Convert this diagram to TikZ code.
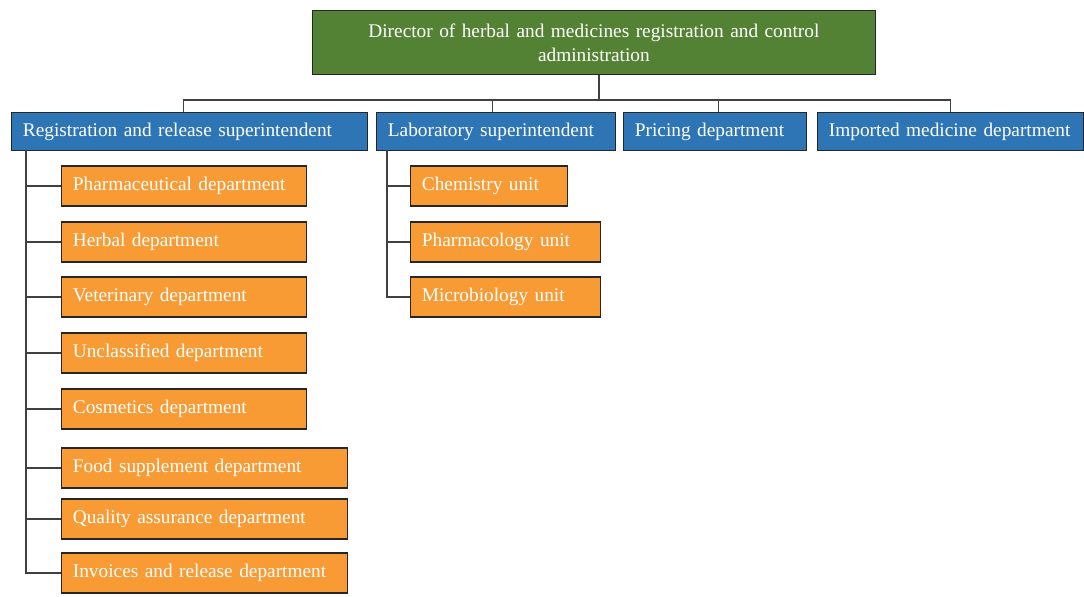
\documentclass[tikz,border=0pt]{standalone}
\usepackage{fontspec}
\setmainfont{Liberation Serif}
\usetikzlibrary{positioning}
\definecolor{dirgreen}{HTML}{548235}
\definecolor{supblue}{HTML}{2E75B6}
\definecolor{unitorange}{HTML}{F89B35}
\definecolor{linegray}{HTML}{404040}

\tikzset{
  box/.style={draw=black!85, line width=0.8pt, text=white, font=\fontsize{14.5}{18}\selectfont, inner xsep=8.5pt, inner ysep=0pt, align=left},
  supbox/.style={box, fill=supblue, anchor=north west, minimum height=28.5pt},
  unitbox/.style={box, fill=unitorange, anchor=west, minimum height=30pt},
  link/.style={draw=linegray, line width=1.1pt}
}

\begin{document}
\begin{tikzpicture}[x=0.75pt, y=-0.75pt]
        \useasboundingbox (0,0) rectangle (1084,596);

        % Director
        \node[box, fill=dirgreen, anchor=north west, text width=405pt, minimum height=48pt, align=center] (dir) at (312,10) {Director of herbal and medicines registration and control\\ administration};

        % Superintendents and departments
        \node[supbox, text width=250pt] (reg) at (11,112) {Registration and release superintendent};
        \node[supbox, text width=162.25pt] (lab) at (376,112) {Laboratory superintendent};
        \node[supbox, text width=120.25pt] (pri) at (623,112) {Pricing department};
        \node[supbox, text width=182.5pt] (imp) at (817,112) {Imported medicine department};

        % Links to the director
        \coordinate (bus) at (599,100);
        \draw[link] (bus |- dir.south) -- (bus);
        \draw[link] ([xshift=-4.5pt]reg.north) |- (bus) -| (imp.north);
        \draw[link] ([xshift=-2.5pt]lab.north) -- ([xshift=-2.5pt]lab.north |- bus);
        \draw[link] ([xshift=2.5pt]pri.north) -- ([xshift=2.5pt]pri.north |- bus);

        % Registration units
        \node[unitbox, text width=166.75pt] (pha) at (61,186) {Pharmaceutical department};
        \node[unitbox, text width=166.75pt] (her) at (61,242) {Herbal department};
        \node[unitbox, text width=166.75pt] (vet) at (61,297) {Veterinary department};
        \node[unitbox, text width=166.75pt] (unc) at (61,353) {Unclassified department};
        \node[unitbox, text width=166.75pt] (cos) at (61,409) {Cosmetics department};
        \node[unitbox, text width=197.5pt] (foo) at (61,468) {Food supplement department};
        \node[unitbox, text width=197.5pt] (qua) at (61,519) {Quality assurance department};
        \node[unitbox, text width=197.5pt] (inv) at (61,573) {Invoices and release department};

        \coordinate (regtrunk) at (26,150);
        \draw[link] (regtrunk) |- (inv.west);
        \foreach \u in {pha, her, vet, unc, cos, foo, qua}
          \draw[link] (\u.west) -- (\u.west -| regtrunk);

        % Laboratory units
        \node[unitbox, text width=100.75pt] (che) at (410,186) {Chemistry unit};
        \node[unitbox, text width=125.5pt] (phm) at (410,242) {Pharmacology unit};
        \node[unitbox, text width=125.5pt] (mic) at (410,297) {Microbiology unit};

        \coordinate (labtrunk) at (387,150);
        \draw[link] (labtrunk) |- (mic.west);
        \foreach \u in {che, phm}
          \draw[link] (\u.west) -- (\u.west -| labtrunk);
    \end{tikzpicture}
\end{document}
